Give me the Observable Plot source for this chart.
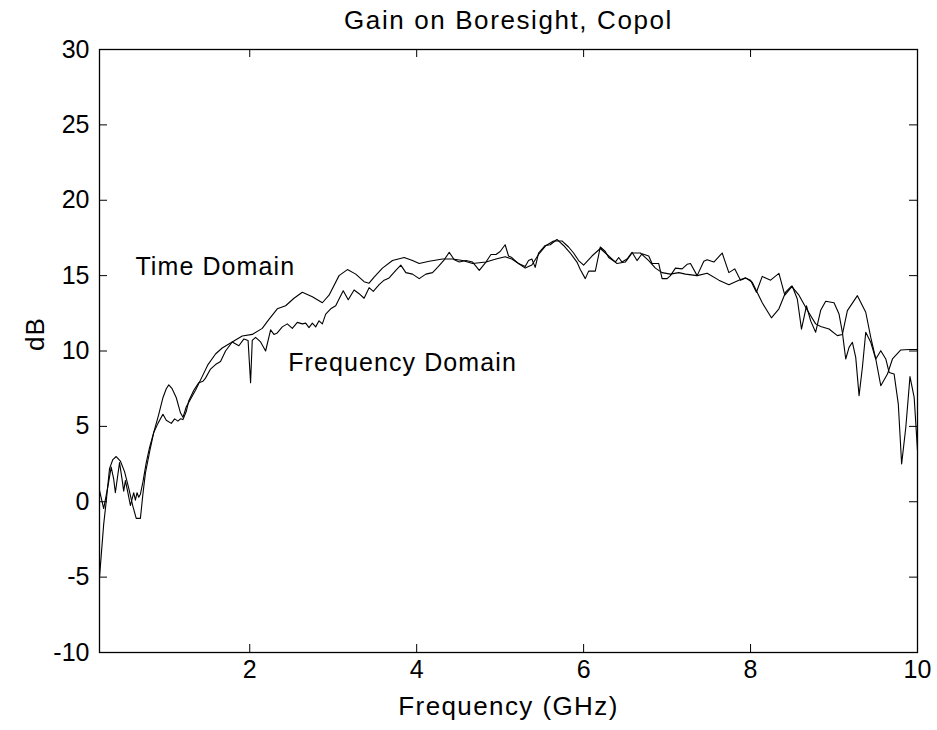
<!DOCTYPE html>
<html><head><meta charset="utf-8">
<script src="https://cdn.jsdelivr.net/npm/d3@7"></script>
<script src="https://cdn.jsdelivr.net/npm/@observablehq/plot@0.6"></script>
<style>
body{margin:0;background:#fff;}
#chart svg{font-family:"Liberation Sans",Arial,Helvetica,sans-serif;background:#fff;}
</style>
</head><body><div id="chart"></div>
<script>
const title = "Gain on Boresight, Copol";
const xLabel = "Frequency (GHz)";
const yLabel = "dB";
const xTicks = [2, 4, 6, 8, 10];
const yTicks = [-10, -5, 0, 5, 10, 15, 20, 25, 30];

// Time Domain series (GHz, dB)
const tdFreq = [0.2,0.25,0.28,0.32,0.36,0.40,0.45,0.50,0.55,0.60,0.64,0.69,0.72,0.75,0.8,0.85,0.91,0.96,1.0,1.03,1.07,1.12,1.17,1.2,1.24,1.29,1.35,1.43,1.50,1.59,1.67,1.79,1.91,2.03,2.15,2.23,2.33,2.43,2.53,2.63,2.75,2.87,2.95,3.07,3.17,3.27,3.37,3.43,3.49,3.59,3.71,3.85,3.95,4.03,4.15,4.31,4.43,4.55,4.67,4.83,4.95,5.06,5.14,5.22,5.30,5.38,5.46,5.55,5.64,5.74,5.82,5.88,5.94,6.0,6.1,6.2,6.3,6.4,6.5,6.58,6.68,6.78,6.86,6.94,7.04,7.14,7.22,7.36,7.48,7.62,7.74,7.86,7.94,8.02,8.14,8.25,8.34,8.42,8.49,8.58,8.68,8.78,8.84,8.94,9.04,9.1,9.16,9.28,9.38,9.44,9.5,9.56,9.64,9.7,9.8,9.9,10.0];
const tdGain = [-5.0,-1.5,0.0,2.2,2.8,3.0,2.7,2.0,0.9,-0.3,-1.1,-1.1,0.5,1.9,3.3,4.6,5.8,6.9,7.5,7.75,7.5,6.9,5.9,5.6,6.3,6.8,7.4,8.3,9.1,9.8,10.2,10.6,11.0,11.1,11.5,12.1,12.8,13.0,13.5,13.9,13.6,13.2,13.7,15.0,15.4,15.1,14.6,14.5,14.9,15.5,16.0,16.2,16.0,15.8,15.95,16.1,16.1,16.0,15.8,15.9,16.1,16.25,16.1,15.8,15.5,15.7,16.4,17.0,17.3,17.3,16.9,16.5,16.0,15.7,16.3,16.8,16.3,15.8,15.9,16.5,16.5,16.0,15.5,15.2,15.1,15.2,15.1,15.0,15.16,14.7,14.4,14.7,14.85,14.56,13.2,12.2,12.8,13.9,14.3,13.7,12.7,11.8,11.62,11.46,11.02,11.1,12.68,13.67,12.57,10.9,9.47,7.7,8.47,9.47,10.07,10.1,10.1];

// Frequency Domain series (GHz, dB)
const fdFreq = [0.2,0.25,0.30,0.34,0.37,0.39,0.42,0.44,0.47,0.49,0.51,0.54,0.57,0.61,0.63,0.65,0.67,0.69,0.72,0.76,0.8,0.85,0.90,0.96,1.0,1.06,1.1,1.14,1.17,1.2,1.24,1.27,1.33,1.39,1.44,1.47,1.53,1.59,1.65,1.71,1.79,1.87,1.93,1.98,2.01,2.03,2.07,2.13,2.19,2.25,2.29,2.33,2.39,2.45,2.51,2.57,2.63,2.67,2.71,2.75,2.79,2.83,2.87,2.91,2.97,3.03,3.07,3.12,3.18,3.25,3.31,3.37,3.43,3.48,3.55,3.61,3.67,3.75,3.81,3.87,3.95,4.03,4.11,4.19,4.25,4.33,4.39,4.45,4.51,4.59,4.67,4.75,4.83,4.89,4.95,5.0,5.06,5.1,5.14,5.22,5.30,5.34,5.38,5.42,5.46,5.54,5.6,5.68,5.76,5.84,5.92,5.96,6.02,6.06,6.14,6.2,6.26,6.3,6.38,6.42,6.46,6.52,6.58,6.64,6.7,6.78,6.82,6.9,6.94,7.0,7.04,7.1,7.18,7.24,7.28,7.36,7.44,7.48,7.56,7.66,7.74,7.81,7.88,7.94,8.0,8.07,8.14,8.24,8.34,8.41,8.5,8.56,8.61,8.67,8.72,8.78,8.84,8.9,9.0,9.06,9.1,9.14,9.18,9.22,9.26,9.3,9.34,9.38,9.44,9.5,9.56,9.62,9.66,9.72,9.77,9.81,9.86,9.91,9.96,10.0];
const fdGain = [0.75,-0.45,1.0,2.3,1.5,0.6,1.8,2.6,1.5,0.7,1.4,0.6,-0.25,0.6,0.1,0.6,0.3,0.5,1.3,2.6,3.6,4.6,5.2,5.8,5.4,5.2,5.5,5.35,5.5,5.45,6.0,6.7,7.4,7.9,8.0,8.2,8.8,9.1,9.3,10.0,10.6,10.35,10.8,10.7,7.9,10.7,10.9,10.6,10.0,11.4,11.1,11.2,11.6,11.8,11.5,11.9,11.8,11.85,11.55,11.85,11.6,12.0,11.8,12.45,12.8,13.0,13.45,14.0,13.4,14.05,13.8,13.5,14.2,13.95,14.4,14.7,14.85,15.35,15.7,15.2,15.1,14.8,15.1,15.2,15.55,16.05,16.55,16.05,15.9,16.0,15.9,15.35,15.9,16.4,16.4,16.6,17.05,16.3,16.2,15.8,15.6,16.0,16.1,15.55,16.5,17.0,17.05,17.4,17.0,16.5,15.9,15.4,14.8,15.3,15.3,16.9,16.6,16.2,15.9,16.2,15.9,16.1,16.55,16.0,16.45,16.3,15.8,15.8,14.8,14.8,15.0,15.5,15.45,15.75,15.8,15.0,15.95,16.05,15.9,16.5,15.2,15.45,14.7,14.85,14.7,13.9,14.95,14.7,15.15,13.7,14.3,13.45,11.45,13.0,12.0,11.25,12.7,13.3,13.2,12.45,11.24,9.47,10.24,10.58,9.58,7.04,8.92,11.24,10.58,9.47,10.02,9.47,8.58,8.47,6.48,2.51,4.94,8.3,6.93,3.4];

const annoText = ["Time Domain", "Frequency Domain"];
const annoFreq = [0.63, 2.46];
const annoGain = [15.6, 9.2];

const td = tdFreq.map((f, i) => ({f, g: tdGain[i]}));
const fd = fdFreq.map((f, i) => ({f, g: fdGain[i]}));
const anno = annoText.map((t, i) => ({t, f: annoFreq[i], g: annoGain[i]}));

const W = 937, H = 730, mL = 99, mR = 20, mT = 49, mB = 78;
const fw = W - mL - mR, fh = H - mT - mB, tk = 8;

const chart = Plot.plot({
  width: W, height: H,
  marginLeft: mL, marginRight: mR, marginTop: mT, marginBottom: mB,
  x: {domain: [0.2, 10], axis: null},
  y: {domain: [-10, 30], axis: null},
  marks: [
    Plot.line(td, {x: "f", y: "g", stroke: "black", strokeWidth: 1.1}),
    Plot.line(fd, {x: "f", y: "g", stroke: "black", strokeWidth: 1.1}),
    Plot.tickX(xTicks, {x: d => d, insetTop: fh - tk, stroke: "black"}),
    Plot.tickX(xTicks, {x: d => d, insetBottom: fh - tk, stroke: "black"}),
    Plot.tickY(yTicks, {y: d => d, insetRight: fw - tk, stroke: "black"}),
    Plot.tickY(yTicks, {y: d => d, insetLeft: fw - tk, stroke: "black"}),
    Plot.frame({stroke: "black", strokeWidth: 1.3}),
    Plot.text(xTicks, {x: d => d, frameAnchor: "bottom", lineAnchor: "middle", dy: 17, text: d => String(d), fontSize: 25, fill: "black"}),
    Plot.text(yTicks, {y: d => d, frameAnchor: "left", textAnchor: "end", dx: -10, text: d => String(d), fontSize: 25, fill: "black"}),
    Plot.text(anno, {x: "f", y: "g", text: "t", textAnchor: "start", fontSize: 25, fill: "black"}),
    Plot.text([title], {frameAnchor: "top", lineAnchor: "middle", dy: -29, text: d => d, fontSize: 26, fill: "black"}),
    Plot.text([xLabel], {frameAnchor: "bottom", lineAnchor: "middle", dy: 54, text: d => d, fontSize: 26, fill: "black"}),
    Plot.text([yLabel], {frameAnchor: "left", dx: -64, rotate: -90, text: d => d, fontSize: 26, fill: "black"})
  ]
});
d3.select(chart).selectAll("text")
  .filter(function () { return isNaN(+this.textContent); })
  .attr("letter-spacing", function () {
    const t = this.textContent;
    return t === title ? "1.6px" : t === xLabel ? "1.4px" : "1.1px";
  });
document.getElementById("chart").appendChild(chart);
</script>
</body></html>
